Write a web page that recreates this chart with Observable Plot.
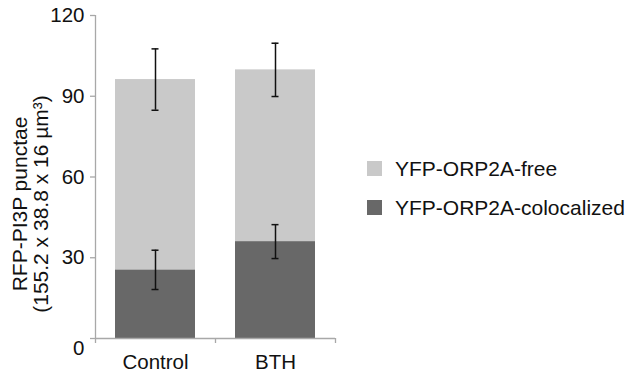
<!DOCTYPE html>
<html><head><meta charset="utf-8">
<script src="https://cdn.jsdelivr.net/npm/d3@7"></script>
<script src="https://cdn.jsdelivr.net/npm/@observablehq/plot@0.6"></script>
<style>
body{margin:0;background:#fff;}
#wrap{position:relative;width:633px;height:377px;font-family:"Liberation Sans",Arial,sans-serif;color:#111;}
#wrap svg{display:block;}
.legend{position:absolute;left:367px;top:158px;font-size:21px;line-height:21px;}
.legend .item{display:flex;align-items:center;height:21px;margin-bottom:18px;}
.legend .sw{width:15px;height:15px;margin-right:13px;}
</style></head><body><div id="wrap"></div>
<script>
const categories = ["Control", "BTH"];
const series = ["YFP-ORP2A-colocalized", "YFP-ORP2A-free"];
const colocalized = [25.5, 36.0];
const free = [70.7, 63.8];
const colocalizedErr = [7.3, 6.3];
const freeErr = [11.4, 9.9];
const yTicks = [0, 30, 60, 90, 120];
const yLabel = "RFP-PI3P punctae\n(155.2 x 38.8 x 16 µm³)";
const colors = ["#686868", "#c9c9c9"];
const legendOrder = ["YFP-ORP2A-free", "YFP-ORP2A-colocalized"];

const rows = [];
categories.forEach((c, i) => {
  rows.push({category: c, series: series[0], value: colocalized[i]});
  rows.push({category: c, series: series[1], value: free[i]});
});
const errs = categories.flatMap((c, i) => [
  {category: c, y: colocalized[i], e: colocalizedErr[i]},
  {category: c, y: colocalized[i] + free[i], e: freeErr[i]}
]);
const axisGray = "#a8a8a8";

const chart = Plot.plot({
  width: 633, height: 377,
  marginLeft: 95, marginRight: 298, marginTop: 15, marginBottom: 39,
  style: {fontFamily: "Liberation Sans, Arial, sans-serif", fontSize: "20px", color: "#111", background: "#fff"},
  x: {domain: categories, paddingInner: 1/3, paddingOuter: 1/6},
  y: {domain: [0, 120]},
  color: {domain: series, range: colors},
  marks: [
    Plot.barY(rows, {x: "category", y: "value", fill: "series"}),
    Plot.ruleX(errs, {x: "category", y1: d => d.y - d.e, y2: d => d.y + d.e, stroke: "#111", strokeWidth: 1.5}),
    Plot.tickY(errs, {x: "category", y: d => d.y + d.e, stroke: "#111", strokeWidth: 1.5, insetLeft: 36.5, insetRight: 36.5}),
    Plot.tickY(errs, {x: "category", y: d => d.y - d.e, stroke: "#111", strokeWidth: 1.5, insetLeft: 36.5, insetRight: 36.5}),
    Plot.ruleY([0], {stroke: axisGray, strokeWidth: 1.3}),
    Plot.ruleX(categories.slice(0, 1), {x: d => d, dx: -60, y1: 0, y2: 120, stroke: axisGray, strokeWidth: 1.3}),
    Plot.ruleX(categories, {x: d => d, dx: -60, y1: 0, y2: 0, insetBottom: -5, stroke: axisGray, strokeWidth: 1.3}),
    Plot.ruleX(categories.slice(-1), {x: d => d, dx: 60, y1: 0, y2: 0, insetBottom: -5, stroke: axisGray, strokeWidth: 1.3}),
    Plot.axisX({tickSize: 0, tickPadding: 16, label: null, fontSize: 20.5}),
    Plot.axisY(yTicks, {tickSize: 5, tickPadding: 6, stroke: axisGray, strokeWidth: 1.3, label: null, fontSize: 20.5, tickFormat: d => d === 0 ? "" : d}),
    Plot.text([0], {y: d => d, frameAnchor: "left", dx: -11, dy: 10, textAnchor: "end", fontSize: 20.5, text: d => String(d)}),
    Plot.text([yLabel], {frameAnchor: "left", textAnchor: "middle", lineAnchor: "middle", rotate: -90, dx: -65, dy: 27, lineHeight: 1, fontSize: 21, text: d => d})
  ]
});
const wrap = document.getElementById("wrap");
wrap.appendChild(chart);

const legend = document.createElement("div");
legend.className = "legend";
legendOrder.forEach(s => {
  const item = document.createElement("div");
  item.className = "item";
  const sw = document.createElement("span");
  sw.className = "sw";
  sw.style.background = colors[series.indexOf(s)];
  const t = document.createElement("span");
  t.textContent = s;
  item.appendChild(sw); item.appendChild(t);
  legend.appendChild(item);
});
wrap.appendChild(legend);
</script></body></html>
